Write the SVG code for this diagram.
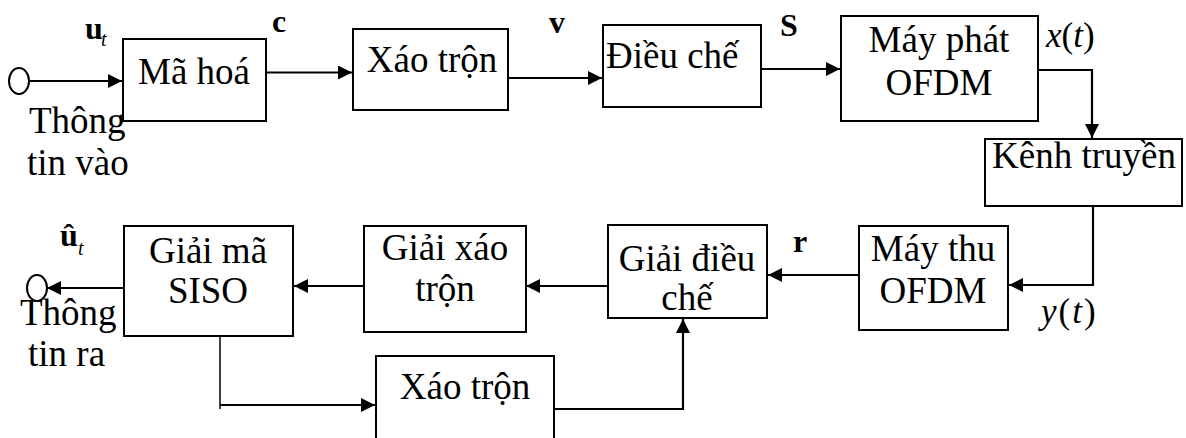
<svg xmlns="http://www.w3.org/2000/svg" width="1186" height="438" viewBox="0 0 1186 438">
<style>
.box{fill:#fff;stroke:#000;stroke-width:2}
text{font-family:'Liberation Serif','Times New Roman',serif;fill:#000}
.t{font-size:37px}
.c{text-anchor:middle}
.lb{font-size:32px;font-weight:bold}
.it{font-size:35px}
.i{font-style:italic}
.sub{font-size:20px;font-style:italic}
.ln{fill:none;stroke:#000;stroke-width:2.2}
.thin{fill:none;stroke:#000;stroke-width:1.5}
</style>
<defs>
<marker id="ah" markerUnits="userSpaceOnUse" markerWidth="15" markerHeight="15" refX="14" refY="7" orient="auto">
<path d="M0,0 L14,7 L0,14 z" fill="#000"/>
</marker>
</defs>
<rect width="1186" height="438" fill="#fff"/>

<g id="connectors">
<ellipse cx="19" cy="81" rx="10" ry="13" fill="#fff" stroke="#000" stroke-width="2"/>
<path class="ln" d="M29,81 L122,81" marker-end="url(#ah)"/>
<path class="ln" d="M266,72.5 L352,72.5" marker-end="url(#ah)"/>
<path class="ln" d="M505,78 L602,78" marker-end="url(#ah)"/>
<path class="ln" d="M762,69 L840,69" marker-end="url(#ah)"/>
<path class="ln" d="M1039,70 L1092,70 L1092,138" marker-end="url(#ah)"/>
<path class="ln" d="M1093,207 L1093,285 L1009,285" marker-end="url(#ah)"/>
<path class="ln" d="M859,275 L768,275" marker-end="url(#ah)"/>
<path class="ln" d="M607,286 L526,286" marker-end="url(#ah)"/>
<path class="ln" d="M364,286 L294,286" marker-end="url(#ah)"/>
<path class="ln" d="M124,288 L47,288" marker-end="url(#ah)"/>
<ellipse cx="37" cy="288" rx="10" ry="13" fill="none" stroke="#000" stroke-width="2"/>
<path class="thin" d="M220,336 L220,409"/>
<path class="ln" d="M220,405 L375,405" marker-end="url(#ah)"/>
<path class="ln" d="M555,409 L683,409 L683,319" marker-end="url(#ah)"/>
</g>

<g id="input-label">
<text class="lb" x="85" y="39">u</text><text class="sub" x="101" y="46">t</text>
<text class="t" x="29" y="133">Thông</text>
<text class="t" x="27" y="175">tin vào</text>
</g>

<g id="ma-hoa">
<rect class="box" x="123" y="39" width="143" height="82"/>
<text class="t c" x="194" y="84">Mã hoá</text>
</g>
<text class="lb" x="272" y="32">c</text>

<g id="xao-tron-1">
<rect class="box" x="353" y="29" width="155" height="81"/>
<text class="t c" x="432" y="72">Xáo trộn</text>
</g>
<text class="lb" x="549" y="33">v</text>

<g id="dieu-che">
<rect class="box" x="603" y="25" width="158" height="82"/>
<text class="t" x="606" y="68">Điều chế</text>
</g>
<text class="lb" x="780" y="36">S</text>

<g id="may-phat">
<rect class="box" x="841" y="16" width="197" height="105"/>
<text class="t c" x="939" y="52">Máy phát</text>
<text class="t c" x="939" y="95">OFDM</text>
</g>
<text class="it" x="1046" y="47"><tspan class="i">x</tspan>(<tspan class="i">t</tspan>)</text>

<g id="kenh-truyen">
<rect class="box" x="985" y="139" width="197" height="67"/>
<text class="t" x="992" y="168">Kênh truyền</text>
</g>

<g id="may-thu">
<rect class="box" x="859" y="226" width="149" height="104"/>
<text class="t c" x="933" y="261">Máy thu</text>
<text class="t c" x="933" y="303">OFDM</text>
</g>
<text class="it" x="1041" y="323" letter-spacing="2"><tspan class="i">y</tspan>(<tspan class="i">t</tspan>)</text>
<text class="lb" x="793" y="252">r</text>

<g id="giai-dieu-che">
<rect class="box" x="608" y="225" width="159" height="93"/>
<text class="t c" x="687" y="271">Giải điều</text>
<text class="t c" x="687" y="310">chế</text>
</g>

<g id="giai-xao-tron">
<rect class="box" x="364" y="226" width="162" height="106"/>
<text class="t c" x="445" y="260">Giải xáo</text>
<text class="t c" x="445" y="301">trộn</text>
</g>

<g id="giai-ma-siso">
<rect class="box" x="124" y="226" width="169" height="110"/>
<text class="t c" x="208" y="263">Giải mã</text>
<text class="t c" x="208" y="303">SISO</text>
</g>

<g id="output-label">
<text class="lb" x="60" y="246">û</text><text class="sub" x="78" y="255">t</text>
<text class="t" x="20" y="325">Thông</text>
<text class="t" x="28" y="366">tin ra</text>
</g>

<g id="xao-tron-2">
<rect class="box" x="376" y="356" width="178" height="95"/>
<text class="t c" x="465" y="399">Xáo trộn</text>
</g>
</svg>
